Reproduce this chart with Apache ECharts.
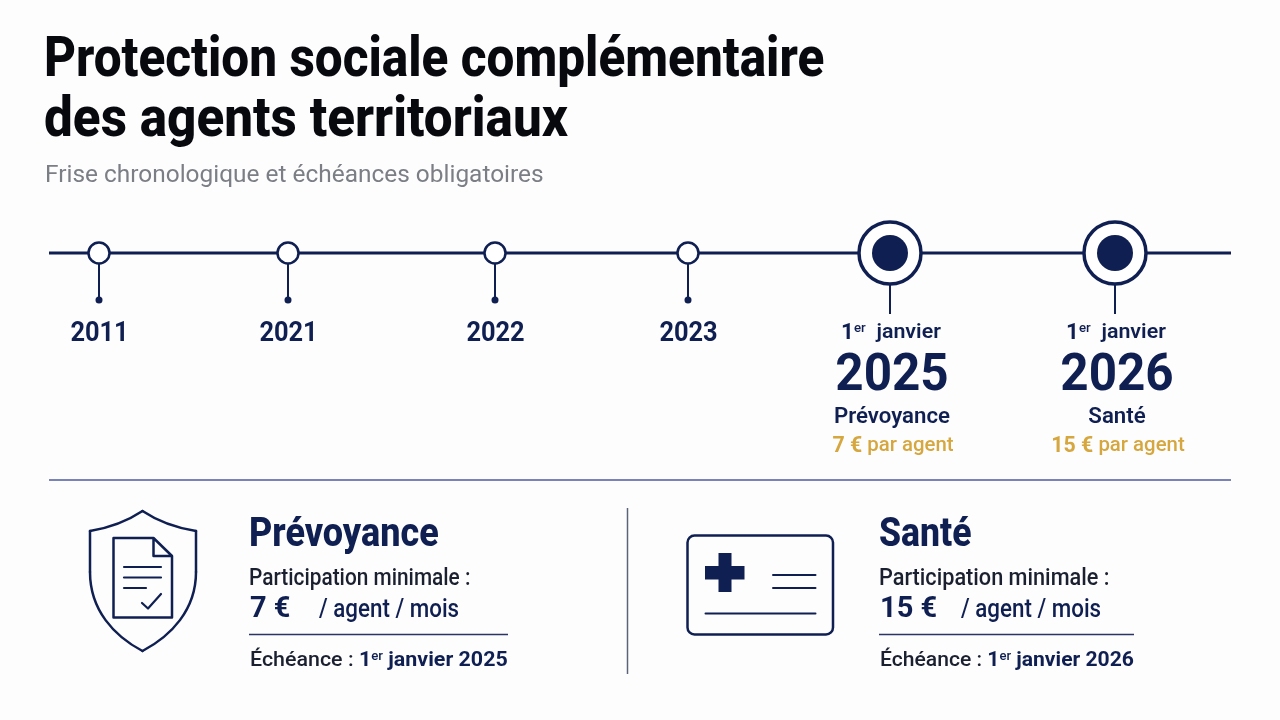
<!DOCTYPE html>
<html><head><meta charset="utf-8">
<style>html,body{margin:0;padding:0;background:#fdfdfd}#c{width:1280px;height:720px}</style>
<script src="https://cdn.jsdelivr.net/npm/echarts@6/dist/echarts.min.js"></script>
</head><body><div id="c"></div>
<script>
// ---- content ----
const titleLines = ['Protection sociale complémentaire', 'des agents territoriaux'];
const subtitle = 'Frise chronologique et échéances obligatoires';
const minorYears = ['2011', '2021', '2022', '2023'];
const majorYears = ['2025', '2026'];
const majorThemes = ['Prévoyance', 'Santé'];
const amounts = ['7 €', '15 €'];
const dayLabel = ['1', 'er', 'janvier'];
// ---- layout ----
const minorX = [99, 288, 495, 688];
const majorX = [890, 1115];
const lineY = 253;

const NAVY = '#0f1f52', INK = '#1b2030', GOLD = '#d6a63f', FONT = 'Roboto';
const chart = echarts.init(document.getElementById('c'));

function T(text, x, y, size, weight, fill, align, sx, rich) {
  const style = {text, x: 0, y: 0, fontFamily: FONT, fontSize: size, fontWeight: weight, fill,
    align: align || 'left', verticalAlign: 'middle'};
  if (rich) style.rich = rich;
  return {type: 'text', x, y, scaleX: sx || 1, silent: true, style};
}
function R(size, weight, fill, extra) {
  return Object.assign({fontFamily: FONT, fontSize: size, fontWeight: weight, fill}, extra || {});
}
const stroke = (w, c) => ({fill: 'none', stroke: c || NAVY, lineWidth: w, lineJoin: 'round', lineCap: 'round'});
const PL = (pts, w) => ({type: 'polyline', silent: true, shape: {points: pts}, style: stroke(w)});
const BZ = (a, b, c, d, w) => ({type: 'bezierCurve', silent: true,
  shape: {x1: a[0], y1: a[1], cpx1: b[0], cpy1: b[1], cpx2: c[0], cpy2: c[1], x2: d[0], y2: d[1]}, style: stroke(w)});

const g = [];
// title block
g.push(T(titleLines[0], 44, 62, 55, 800, '#08090f', 'left', 0.9));
g.push(T(titleLines[1], 44, 122, 55, 800, '#08090f', 'left', 0.932));
g.push(T(subtitle, 45, 176, 23, 400, '#7b7e85', 'left', 1.062));

// minor years
minorYears.forEach((y, i) => g.push(T(y, minorX[i] + 0.5, 334, 27, 700, NAVY, 'center', 0.94)));
// major columns
const riches = {
  a: R(22, 700, NAVY), s: R(13, 500, NAVY, {verticalAlign: 'top', padding: [0, 0, 6, 0]}),
  j: R(21, 600, NAVY)
};
majorYears.forEach((y, i) => {
  const cx = majorX[i] + 1;
  g.push(T(`{a|${dayLabel[0]}}{s|${dayLabel[1]}}  {j|${dayLabel[2]}}`, cx, 333, 21, 600, NAVY, 'center', 1.02, riches));
  g.push(T(y, cx + 1, 377, 52, 700, NAVY, 'center', 0.95));
  g.push(T(majorThemes[i], cx + 1, 417, 22, 600, NAVY, 'center', 1.01));
  g.push(T(`{b|${amounts[i]}} {r|par agent}`, cx + 2, 446, 21, 500, GOLD, 'center', 0.97,
    {b: R(22, 700, GOLD), r: R(21, 500, GOLD)}));
});

// separators
g.push({type: 'line', silent: true, shape: {x1: 49, y1: 480, x2: 1231, y2: 480}, style: {stroke: '#4c5a9c', lineWidth: 1.3}});
g.push({type: 'line', silent: true, shape: {x1: 627.5, y1: 508, x2: 627.5, y2: 674}, style: {stroke: '#5a6478', lineWidth: 1.5}});

// shield icon
g.push(BZ([142.5, 511], [126, 522], [108, 528], [90, 531], 2.5));
g.push(BZ([142.5, 511], [159, 522], [177, 528], [196, 531], 2.5));
g.push(PL([[90, 531], [90, 572]], 2.5));
g.push(PL([[196, 531], [196, 572]], 2.5));
g.push(BZ([90, 572], [90, 610], [114, 636], [142.5, 651], 2.5));
g.push(BZ([196, 572], [196, 610], [171, 636], [142.5, 651], 2.5));
g.push(PL([[153.5, 538], [113.5, 538], [113.5, 617.5], [172, 617.5], [172, 556], [153.5, 538], [153.5, 556], [172, 556]], 2.5));
g.push(PL([[124, 567], [161, 567]], 2.2));
g.push(PL([[124, 577.5], [161, 577.5]], 2.2));
g.push(PL([[124, 588], [146, 588]], 2.2));
g.push(PL([[142, 603], [148, 608.5], [161, 594]], 2.2));

// card icon
g.push({type: 'rect', silent: true, shape: {x: 687.5, y: 535.5, width: 145.5, height: 99, r: 7}, style: stroke(2.5)});
g.push({type: 'polygon', silent: true, style: {fill: NAVY}, shape: {points: [
  [718.5, 553], [731.5, 553], [731.5, 566], [744.5, 566], [744.5, 579.5], [731.5, 579.5],
  [731.5, 592], [718.5, 592], [718.5, 579.5], [705, 579.5], [705, 566], [718.5, 566]]}});
g.push(PL([[773, 575], [815.5, 575]], 2));
g.push(PL([[773, 588], [815.5, 588]], 2));
g.push(PL([[705.5, 613.5], [815.5, 613.5]], 2));

// detail panels
function panel(x, theme, amount, ruleEnd, year, m) {
  g.push(T(theme, x, 536, 40, 800, NAVY, 'left', m.head));
  g.push(T('Participation minimale :', x, 579, 23, 500, INK, 'left', m.part));
  g.push(T(amount, x + 1, 610, 29, 700, NAVY, 'left', 1.0));
  g.push(T('/ agent / mois', x + m.rest, 610, 26, 500, NAVY, 'left', 0.86));
  g.push({type: 'line', silent: true, shape: {x1: x, y1: 634.5, x2: ruleEnd, y2: 634.5}, style: {stroke: '#2a3566', lineWidth: 1.3}});
  g.push(T(`{e|Échéance : }{a|${dayLabel[0]}}{s|${dayLabel[1]}} {a|${dayLabel[2]} ${year}}`, x + 1, 661, 21, 500, INK, 'left', m.due,
    {e: R(21, 500, INK), a: R(21, 700, NAVY), s: R(13, 500, NAVY, {verticalAlign: 'top'})}));
}
panel(249, majorThemes[0], amounts[0], 508, majorYears[0], {head: 0.9, part: 0.906, rest: 70, due: 1.02});
panel(879, majorThemes[1], amounts[1], 1134, majorYears[1], {head: 0.89, part: 0.943, rest: 82, due: 1.005});

const stems = [];
minorX.forEach(x => stems.push([x, lineY], [x, 300], null));
majorX.forEach(x => stems.push([x, lineY], [x, 314], null));

chart.setOption({
  backgroundColor: '#fdfdfd',
  animation: false,
  grid: {left: 0, right: 0, top: 0, bottom: 0},
  xAxis: {type: 'value', min: 0, max: 1280, show: false},
  yAxis: {type: 'value', min: 0, max: 720, inverse: true, show: false},
  series: [
    {type: 'line', silent: true, showSymbol: false, symbol: 'none', z: 1, lineStyle: {color: NAVY, width: 3},
      data: [[49, lineY], [1231, lineY]]},
    {type: 'line', silent: true, showSymbol: false, symbol: 'none', z: 1, lineStyle: {color: NAVY, width: 2}, connectNulls: false,
      data: stems.map(p => p === null ? ['-', '-'] : p)},
    {type: 'scatter', silent: true, z: 2, symbolSize: 7, itemStyle: {color: NAVY, opacity: 1},
      data: minorX.map(x => [x, 300])},
    {type: 'scatter', silent: true, z: 3, symbolSize: 21, itemStyle: {color: '#fff', borderColor: NAVY, borderWidth: 2.5, opacity: 1},
      data: minorX.map(x => [x, lineY])},
    {type: 'scatter', silent: true, z: 3, symbolSize: 62, itemStyle: {color: '#fff', borderColor: NAVY, borderWidth: 3.5, opacity: 1},
      data: majorX.map(x => [x, lineY])},
    {type: 'scatter', silent: true, z: 4, symbolSize: 36, itemStyle: {color: NAVY, opacity: 1},
      data: majorX.map(x => [x, lineY])}
  ],
  graphic: {elements: g}
});
</script></body></html>
